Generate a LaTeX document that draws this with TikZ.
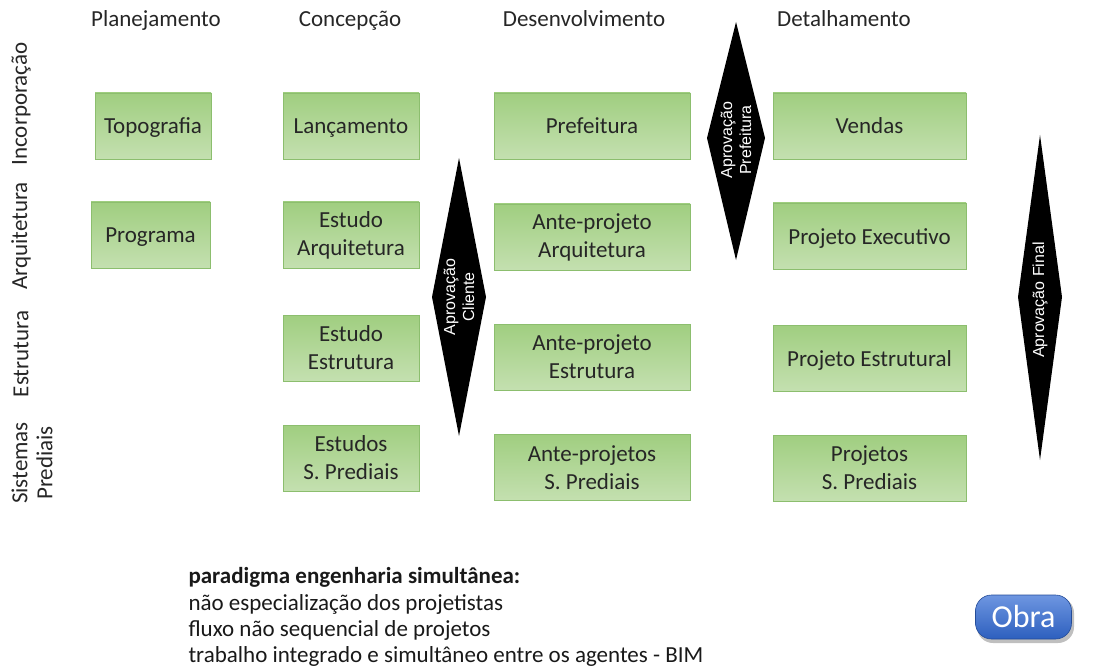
\documentclass[tikz,border=0pt]{standalone}
\usepackage{fontspec}
\setmainfont{Carlito}
\newfontfamily\arialf{Liberation Sans}
\definecolor{boxtop}{RGB}{160,206,128}
\definecolor{boxbot}{RGB}{196,224,176}
\definecolor{boxline}{RGB}{140,190,110}
\definecolor{obratop}{RGB}{110,150,225}
\definecolor{obrabot}{RGB}{45,95,190}
\begin{document}
\begin{tikzpicture}[x=1pt,y=-1pt,
  box/.style={draw=boxline, line width=0.8pt, top color=boxtop, bottom color=boxbot, align=center,
    font=\fontsize{23}{28}\selectfont, inner sep=2pt, text=black!85},
  oneline/.style={text height=20pt, text depth=4pt},
  hdr/.style={anchor=base, font=\fontsize{23}{26}\selectfont, text=black!85},
  side/.style={rotate=90, font=\fontsize{23}{25}\selectfont, text=black!85, align=center},
  dtext/.style={rotate=90, text=white, align=center, font=\arialf\fontsize{16}{19}\selectfont},
  notes/.style={anchor=west, font=\fontsize{23}{26}\selectfont, text=black!90}]
\useasboundingbox (0,0) rectangle (1099,668);
% headers
\node[hdr] (h1) at (156,27) {Planejamento};
\node[hdr] (h2) at (350,27) {Concepção};
\node[hdr] (h3) at (584,27) {Desenvolvimento};
\node[hdr] (h4) at (844,27) {Detalhamento};
% side labels
\node[side] (s1) at (21,104) {Incorporação};
\node[side] (s2) at (21,236) {Arquitetura};
\node[side] (s3) at (21,354) {Estrutura};
\node[side] (s4) at (32,463) {Sistemas\\Prediais};
% column 1
\node[box, oneline, minimum width=116, minimum height=66] (topo) at (153,126) {Topografia};
\node[box, oneline, minimum width=119, minimum height=66] (prog) at (150.5,235) {Programa};
% column 2
\node[box, oneline, minimum width=136, minimum height=66] (lanc) at (351,126) {Lançamento};
\node[box, minimum width=136, minimum height=66] (estarq) at (351,235) {Estudo\\Arquitetura};
\node[box, minimum width=136, minimum height=66] (estest) at (351,348) {Estudo\\Estrutura};
\node[box, minimum width=136, minimum height=66] (estsp) at (351,458) {Estudos\\S. Prediais};
% column 3
\node[box, oneline, minimum width=196, minimum height=66] (pref) at (592,126) {Prefeitura};
\node[box, minimum width=196, minimum height=66] (aparq) at (592,237) {Ante-projeto\\Arquitetura};
\node[box, minimum width=196, minimum height=66] (apest) at (592,357) {Ante-projeto\\Estrutura};
\node[box, minimum width=196, minimum height=66] (apsp) at (592,467.5) {Ante-projetos\\S. Prediais};
% column 4
\node[box, oneline, minimum width=193, minimum height=66] (vend) at (869.5,126) {Vendas};
\node[box, oneline, minimum width=193, minimum height=66] (pexec) at (869.5,236) {Projeto Executivo};
\node[box, oneline, minimum width=193, minimum height=66] (pestr) at (869.5,358) {Projeto Estrutural};
\node[box, minimum width=193, minimum height=66] (psp) at (869.5,468) {Projetos\\S. Prediais};
% diamonds
\fill[black] (459,158) -- (486,297) -- (459,436) -- (432,297) -- cycle;
\node[dtext] (dcli) at (459,297) {Aprovação\\Cliente};
\fill[black] (736,22) -- (765,138) -- (736,260) -- (707,138) -- cycle;
\node[dtext] (dpref) at (736,140) {Aprovação\\Prefeitura};
\fill[black] (1040,135) -- (1062,297) -- (1040,460) -- (1018,297) -- cycle;
\node[dtext] (dfin) at (1040,300) {Aprovação Final};
% notes
\node[notes] (n1) at (185,577) {\bfseries paradigma engenharia simultânea:};
\node[notes] (n2) at (185,604) {não especialização dos projetistas};
\node[notes] (n3) at (185,630) {fluxo não sequencial de projetos};
\node[notes] (n4) at (185,656) {trabalho integrado e simultâneo entre os agentes - BIM};
% Obra button
\fill[black!25, rounded corners=16pt] (977,597) rectangle (1074,643);
\node[rounded corners=16pt, top color=obratop, bottom color=obrabot, draw=obrabot!80!black, line width=0.6pt,
  minimum width=96, minimum height=44, text=white, font=\fontsize{32}{34}\selectfont] (obra) at (1023.5,617) {Obra};
\end{tikzpicture}
\end{document}
